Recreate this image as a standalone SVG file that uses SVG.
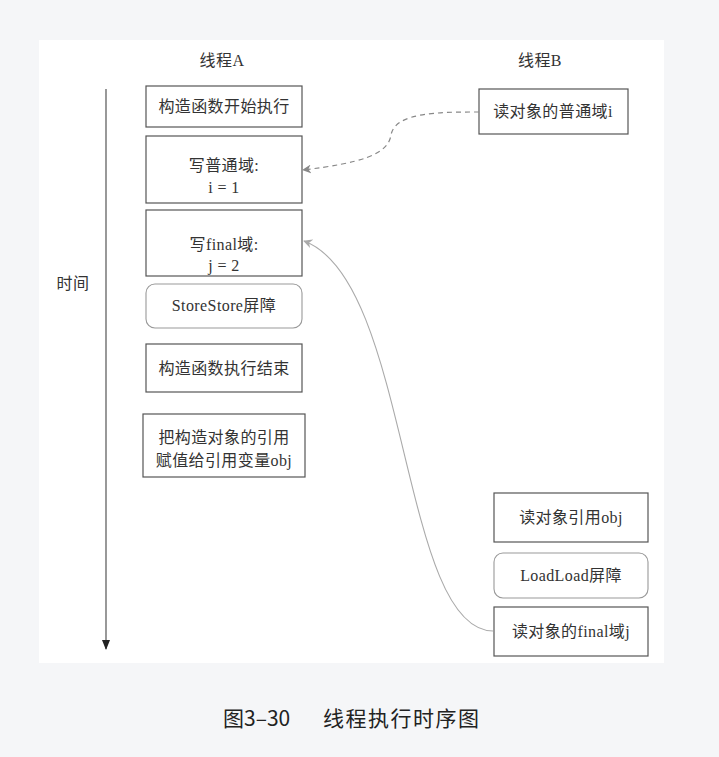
<svg xmlns="http://www.w3.org/2000/svg" width="719" height="757" viewBox="0 0 719 757">
<style>
.t{font-family:"Liberation Serif","Noto Sans CJK SC",serif;font-size:16px;fill:#333;text-anchor:middle;letter-spacing:0.4px}
.b{fill:#fff;stroke:#555;stroke-width:1.2}
.r{fill:#fff;stroke:#999;stroke-width:1.1}
.cap{font-family:"Noto Sans CJK SC","Noto Sans",sans-serif;font-size:21px;fill:#222}
</style>
<defs>
<marker id="ag" viewBox="0 0 10 10" refX="9" refY="5" markerWidth="9" markerHeight="9" markerUnits="userSpaceOnUse" orient="auto"><path d="M0,0 L10,5 L0,10 L3,5 Z" fill="#888"/></marker>
<marker id="al" viewBox="0 0 10 10" refX="9" refY="5" markerWidth="9" markerHeight="9" markerUnits="userSpaceOnUse" orient="auto"><path d="M0,0 L10,5 L0,10 L3,5 Z" fill="#aaa"/></marker>
<marker id="ab" viewBox="0 0 10 10" refX="9" refY="5" markerWidth="10" markerHeight="10" markerUnits="userSpaceOnUse" orient="auto"><path d="M0,1 L10,5 L0,9 Z" fill="#222"/></marker>
</defs>
<rect width="719" height="757" fill="#f5f6f8"/>
<rect x="39" y="40" width="625" height="623" fill="#fff"/>
<text class="t" x="222" y="66">线程A</text>
<text class="t" x="540" y="66">线程B</text>
<text class="t" x="73" y="289">时间</text>
<g id="nodeA1"><rect class="b" x="146" y="86" width="156" height="41"/><text class="t" x="224" y="112">构造函数开始执行</text></g>
<g id="nodeA2"><rect class="b" x="146" y="136" width="156" height="67"/><text class="t" x="224" y="171">写普通域:</text><text class="t" x="224" y="193">i = 1</text></g>
<g id="nodeA3"><rect class="b" x="146" y="210" width="156" height="66"/><text class="t" x="224" y="250">写final域:</text><text class="t" x="224" y="271">j = 2</text></g>
<g id="nodeA4"><rect class="r" x="146" y="284" width="156" height="44" rx="9"/><text class="t" x="224" y="311">StoreStore屏障</text></g>
<g id="nodeA5"><rect class="b" x="146" y="344" width="156" height="48"/><text class="t" x="224" y="374">构造函数执行结束</text></g>
<g id="nodeA6"><rect class="b" x="143" y="414" width="162" height="63"/><text class="t" x="224" y="443">把构造对象的引用</text><text class="t" x="224" y="466">赋值给引用变量obj</text></g>
<g id="nodeB1"><rect class="b" x="479" y="89" width="149" height="45"/><text class="t" x="553" y="117">读对象的普通域i</text></g>
<g id="nodeB2"><rect class="b" x="494" y="493" width="154" height="49"/><text class="t" x="571" y="523">读对象引用obj</text></g>
<g id="nodeB3"><rect class="r" x="494" y="553" width="154" height="45" rx="9"/><text class="t" x="571" y="581">LoadLoad屏障</text></g>
<g id="nodeB4"><rect class="b" x="494" y="607" width="154" height="49"/><text class="t" x="571" y="637">读对象的final域j</text></g>
<g id="connectors">
<line x1="106" y1="89" x2="106" y2="649" stroke="#444" stroke-width="1.1" marker-end="url(#ab)"/>
<path d="M479,112 C440,112 395,112 391,135 C388,155 360,163 303,170" fill="none" stroke="#888" stroke-width="1.2" stroke-dasharray="5,4" marker-end="url(#ag)"/>
<path d="M493,631 C400,630 410,280 304,241" fill="none" stroke="#aaa" stroke-width="1.1" marker-end="url(#al)"/>
</g>
<text class="cap" x="223" y="726">图3–30</text>
<text class="cap" x="323" y="726" letter-spacing="1.5">线程执行时序图</text>
</svg>
